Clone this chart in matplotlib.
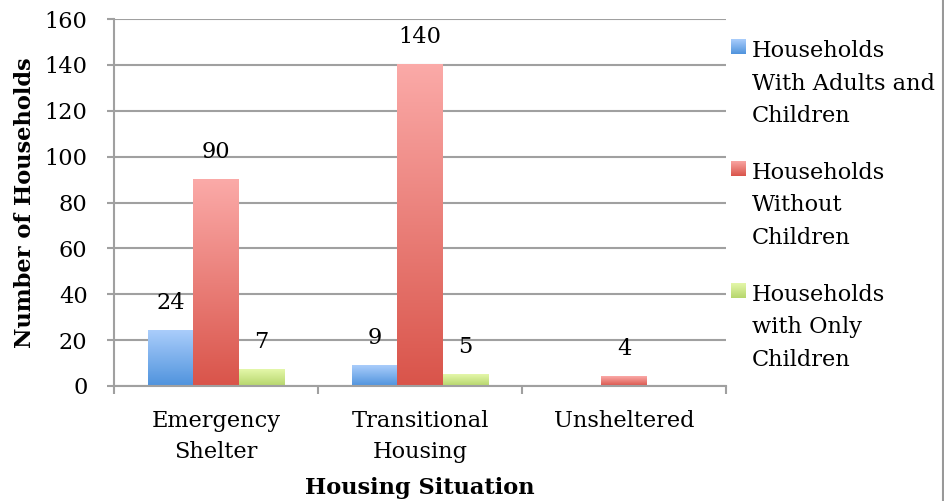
import matplotlib
matplotlib.use('Agg')
import matplotlib.pyplot as plt
import numpy as np
from matplotlib.colors import LinearSegmentedColormap

plt.rcParams['font.family'] = ['DejaVu Serif']

categories = ['Emergency\nShelter', 'Transitional\nHousing', 'Unsheltered']
series_names = ['Households\nWith Adults and\nChildren',
                'Households\nWithout\nChildren',
                'Households\nwith Only\nChildren']
adults_and_children = [24, 9, 0]
without_children = [90, 140, 4]
only_children = [7, 5, 0]
series = [adults_and_children, without_children, only_children]

# (bottom colour, top colour) for the gradient fills
grads = [('#4f93dd', '#aacdfb'), ('#d9544a', '#fbaaa8'), ('#b6d66c', '#e4f7aa')]

fs = 16.2
grid_c = '#a0a0a0'

fig = plt.figure(figsize=(9.44, 5.01), dpi=100)
ax = fig.add_axes([114/944, 1-386/501, (726-114)/944, (386-19)/501])

x = np.arange(len(categories))
w = 0.222
grad = np.linspace(0, 1, 256).reshape(-1, 1)
for i, (vals, (cb, ct)) in enumerate(zip(series, grads)):
    bars = ax.bar(x + (i-1)*w, vals, w, color='none', zorder=2)
    cmap = LinearSegmentedColormap.from_list('g%d' % i, [cb, ct])
    for b, v in zip(bars, vals):
        if v <= 0:
            continue
        x0, h = b.get_x(), b.get_height()
        ax.imshow(grad, extent=[x0, x0+w, 0, h], origin='lower', aspect='auto',
                  cmap=cmap, zorder=2, interpolation='bilinear')
        ax.annotate(str(v), (x0 + w/2, h), xytext=(0, 20), textcoords='offset points',
                    ha='center', va='center', fontsize=fs)

ax.set_xlim(-0.5, 2.5)
ax.set_ylim(0, 160)
ax.set_yticks(range(0, 161, 20))
ax.set_xticks(x)
ax.set_xticklabels(categories, fontsize=fs, linespacing=1.55)
ax.set_xticks([-0.5, 0.5, 1.5, 2.5], minor=True)
ax.tick_params(axis='x', which='major', length=0, pad=17)
ax.tick_params(axis='x', which='minor', length=6, width=1.5, color=grid_c)
ax.tick_params(axis='y', length=5, width=1.5, color=grid_c, labelsize=fs, pad=14)
ax.yaxis.grid(True, color=grid_c, lw=1.5)
ax.set_axisbelow(True)
for s in ['top', 'right']:
    ax.spines[s].set_visible(False)
for s in ['left', 'bottom']:
    ax.spines[s].set_color(grid_c)
    ax.spines[s].set_linewidth(1.5)

ax.set_ylabel('Number of Households', fontsize=fs, fontweight='bold', labelpad=6)
ax.set_xlabel('Housing Situation', fontsize=fs, fontweight='bold', labelpad=10)

# legend drawn by hand: gradient squares and three-line labels
for i, (name, (cb, ct)) in enumerate(zip(series_names, grads)):
    top = 39 + i*122
    sq = fig.add_axes([731/944, 1-(top+15)/501, 15/944, 15/501])
    sq.imshow(grad, origin='lower', aspect='auto',
              cmap=LinearSegmentedColormap.from_list('l%d' % i, [cb, ct]))
    sq.axis('off')
    for j, line in enumerate(name.split('\n')):
        fig.text(752/944, 1-(57 + i*122 + j*32.5)/501, line, fontsize=fs,
                 ha='left', va='baseline')

fig.add_artist(plt.Line2D([942.5/944]*2, [0, 1], color='#999999', lw=1.5))

fig.savefig('out.png', dpi=100)
